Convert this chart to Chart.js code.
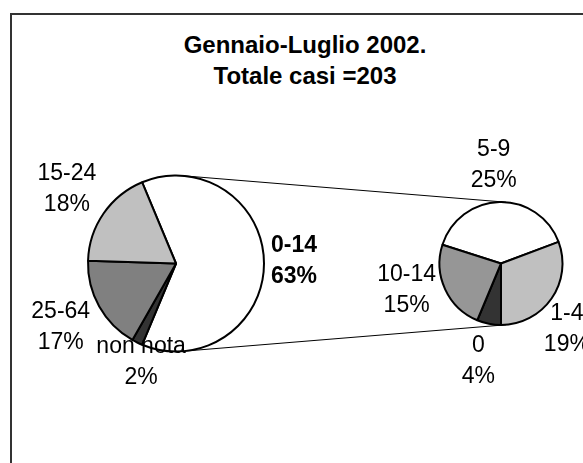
<!DOCTYPE html>
<html>
<head>
<meta charset="utf-8">
<script src="https://cdn.jsdelivr.net/npm/chart.js@4.4.1/dist/chart.umd.min.js"></script>
<style>
html,body{margin:0;padding:0;background:#fff;}
#wrap{position:relative;width:583px;height:463px;overflow:hidden;background:#fff;}
#frame{position:absolute;left:10px;top:13px;width:800px;height:700px;border-left:2px solid #333;border-top:2px solid #333;}
#title{position:absolute;left:0;top:29px;width:610px;text-align:center;font:bold 24px "Liberation Sans",Arial,sans-serif;line-height:31px;color:#000;}
canvas{position:absolute;left:0;top:0;}
</style>
</head>
<body>
<div id="wrap">
  <div id="frame"></div>
  <div id="title"></div>
  <canvas id="mainPie" width="583" height="463"></canvas>
  <canvas id="subPie" width="583" height="463"></canvas>
</div>
<script>
// ---- data ----
const titleLines = ['Gennaio-Luglio 2002.', 'Totale casi =203'];
const totalCases = 203;
const mainLabels = ['0-14', 'non nota', '25-64', '15-24'];
const mainValues = [127, 4, 35, 37];
const subLabels = ['5-9', '1-4', '0', '10-14'];
const subValues = [50, 39, 8, 30];

// ---- styles / layout ----
const mainColors = ['#ffffff', '#333333', '#808080', '#c0c0c0'];
const subColors = ['#ffffff', '#c0c0c0', '#333333', '#969696'];
const mainBold = [true, false, false, false];
const subBold = [false, false, false, false];
const mainNudge = [[0, -2], [25, -23], [0, -1], [0, 1]];
const subNudge = [[-5, -6], [-17, 8], [-4, 5], [1, -17]];
const FONT = '"Liberation Sans", Arial, sans-serif';

document.getElementById('title').innerHTML = titleLines.join('<br>');

const sum = a => a.reduce((s, v) => s + v, 0);
// main pie: first slice centred on the right (3 o'clock)
const rotMain = 90 - mainValues[0] / sum(mainValues) * 180;
// secondary pie: second slice ends at the bottom (6 o'clock)
const rotSub = 180 - (subValues[0] + subValues[1]) / sum(subValues) * 360;

function labelPlugin(id, bold, nudge) {
  return {
    id: id,
    afterDatasetsDraw(chart) {
      const ctx = chart.ctx;
      const meta = chart.getDatasetMeta(0);
      const labels = chart.data.labels;
      const vals = chart.data.datasets[0].data;
      ctx.save();
      meta.data.forEach((arc, i) => {
        const p = arc.getProps(['x', 'y', 'startAngle', 'endAngle', 'outerRadius'], true);
        const mid = (p.startAngle + p.endAngle) / 2;
        const c = Math.cos(mid), s = Math.sin(mid);
        ctx.font = (bold[i] ? 'bold ' : '') + '23px ' + FONT;
        const l1 = labels[i];
        const l2 = Math.round(vals[i] / totalCases * 100) + '%';
        const w = Math.max(ctx.measureText(l1).width, ctx.measureText(l2).width);
        const h = 47;
        const d = p.outerRadius + 7 + Math.abs(c) * w / 2 + Math.abs(s) * h / 2;
        const cx = p.x + d * c + nudge[i][0];
        const cy = p.y + d * s + nudge[i][1];
        ctx.fillStyle = '#000';
        ctx.textAlign = 'center';
        ctx.textBaseline = 'middle';
        ctx.fillText(l1, cx, cy - 15.5);
        ctx.fillText(l2, cx, cy + 15.5);
      });
      ctx.restore();
    }
  };
}

const baseOpts = {
  responsive: false,
  animation: false,
  events: [],
  plugins: { legend: { display: false }, tooltip: { enabled: false }, title: { display: false } }
};

const mainChart = new Chart(document.getElementById('mainPie'), {
  type: 'pie',
  data: {
    labels: mainLabels,
    datasets: [{
      data: mainValues,
      backgroundColor: mainColors,
      borderColor: '#000',
      borderWidth: 2,
      rotation: rotMain,
      radius: 88
    }]
  },
  options: Object.assign({}, baseOpts, {
    layout: { padding: { left: 0, right: 231, top: 64, bottom: 0 } }
  }),
  plugins: [labelPlugin('mainLabels', mainBold, mainNudge)]
});

const connectorPlugin = {
  id: 'connectors',
  beforeDatasetsDraw(chart) {
    const a = mainChart.getDatasetMeta(0).data[0].getProps(['x', 'y', 'outerRadius'], true);
    const b = chart.getDatasetMeta(0).data[0].getProps(['x', 'y', 'outerRadius'], true);
    const dx = b.x - a.x, dy = b.y - a.y;
    const dist = Math.hypot(dx, dy);
    const phi = Math.atan2(dy, dx);
    const alpha = Math.acos((a.outerRadius - b.outerRadius) / dist);
    const ctx = chart.ctx;
    ctx.save();
    ctx.strokeStyle = '#000';
    ctx.lineWidth = 1;
    [-1, 1].forEach(sg => {
      const t = phi + sg * alpha;
      ctx.beginPath();
      ctx.moveTo(a.x + a.outerRadius * Math.cos(t), a.y + a.outerRadius * Math.sin(t));
      ctx.lineTo(b.x + b.outerRadius * Math.cos(t), b.y + b.outerRadius * Math.sin(t));
      ctx.stroke();
    });
    ctx.restore();
  }
};

const subChart = new Chart(document.getElementById('subPie'), {
  type: 'pie',
  data: {
    labels: subLabels,
    datasets: [{
      data: subValues,
      backgroundColor: subColors,
      borderColor: '#000',
      borderWidth: 2,
      rotation: rotSub,
      radius: 61.5
    }]
  },
  options: Object.assign({}, baseOpts, {
    layout: { padding: { left: 419, right: 0, top: 64, bottom: 0 } }
  }),
  plugins: [connectorPlugin, labelPlugin('subLabels', subBold, subNudge)]
});
</script>
</body>
</html>
